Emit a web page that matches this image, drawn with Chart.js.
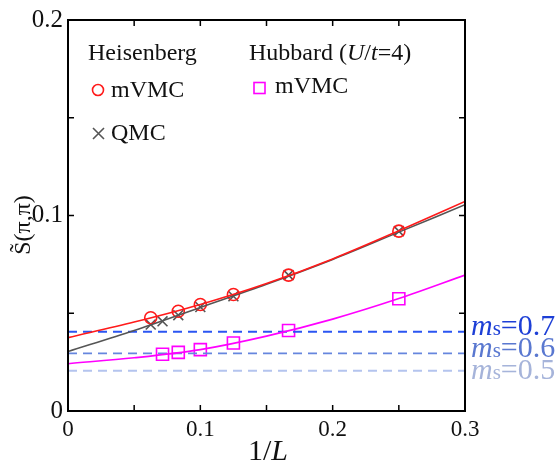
<!DOCTYPE html>
<html>
<head>
<meta charset="utf-8">
<script src="https://cdn.jsdelivr.net/npm/chart.js@4.4.1/dist/chart.umd.min.js"></script>
<style>
  body { margin: 0; background: #fff; }
  #wrap { width: 559px; height: 464px; }
</style>
</head>
<body>
<div id="wrap"><canvas id="chart" width="559" height="464"></canvas></div>
<script>
// 1/L for L = 4, 6, 8, 10, 12, 14, 16
var invL = [1/4, 1/6, 1/8, 1/10, 1/12, 1/14, 1/16];

// Heisenberg
var heisVMC = [0.0920, 0.0695, 0.0596, 0.0545, 0.0510, null, 0.0477];
var heisQMC = [0.0920, 0.0695, 0.0587, 0.0532, 0.0490, 0.0459, 0.0442];
// Hubbard U/t=4
var hubVMC  = [0.0574, 0.0412, 0.0348, 0.0314, 0.0300, 0.0290, null];

// fit curves
var fitX    = [0, 0.05, 0.1, 0.15, 0.2, 0.25, 0.3];
var fitHeisVMC = [0.0375, 0.0455, 0.0545, 0.0652, 0.0778, 0.0922, 0.1072];
var fitHeisQMC = [0.0304, 0.0412, 0.0530, 0.0648, 0.0775, 0.0915, 0.1055];
var fitHub     = [0.0242, 0.0272, 0.0314, 0.0383, 0.0470, 0.0575, 0.0695];

// m_s reference levels
var msLabels = ['0.7', '0.6', '0.5'];
var msLevels = [0.0405, 0.0295, 0.0206];
var msLineColors = ['#2b55f2', '#6686de', '#b4c4ee'];
var msTextColors = ['#1d3fd6', '#5a78d0', '#a6b4da'];

var serif = "'Liberation Serif', 'Times New Roman', serif";

function pts(xs, ys) {
    var out = [];
    xs.forEach(function(x, i) { if (ys[i] != null) out.push({x: x, y: ys[i]}); });
    return out;
}

var datasets = [
    {data: pts(fitX, fitHeisVMC), borderColor: '#ff1a1a', borderWidth: 1.6, pointRadius: 0, showLine: true, cubicInterpolationMode: 'monotone'},
    {data: pts(fitX, fitHeisQMC), borderColor: '#555', borderWidth: 1.6, pointRadius: 0, showLine: true, cubicInterpolationMode: 'monotone'},
    {data: pts(fitX, fitHub), borderColor: '#ff00ff', borderWidth: 1.6, pointRadius: 0, showLine: true, cubicInterpolationMode: 'monotone'}
];
msLevels.forEach(function(v, i) {
    datasets.push({data: [{x: 0, y: v}, {x: 0.3, y: v}], borderColor: msLineColors[i],
        borderWidth: i == 0 ? 2 : 1.8, borderDash: [9, 6], pointRadius: 0, showLine: true});
});
datasets.push(
    {data: pts(invL, heisVMC), pointStyle: 'circle', pointRadius: 6, borderColor: '#ff1a1a', backgroundColor: 'rgba(0,0,0,0)', pointBorderWidth: 1.6, showLine: false},
    {data: pts(invL, heisQMC), pointStyle: 'crossRot', pointRadius: 7, borderColor: '#555', pointBorderWidth: 1.6, showLine: false},
    {data: pts(invL, hubVMC), pointStyle: 'rect', pointRadius: 8.5, borderColor: '#ff00ff', backgroundColor: 'rgba(0,0,0,0)', pointBorderWidth: 1.6, showLine: false}
);

// draw a row of text pieces with different fonts
function runs(ctx, x, y, parts) {
    parts.forEach(function(p) {
        ctx.font = p.f;
        ctx.fillStyle = p.c || '#111';
        ctx.fillText(p.t, x, y + (p.dy || 0));
        x += ctx.measureText(p.t).width;
    });
}

var frame = {
    id: 'frame',
    afterDraw: function(chart) {
        var ctx = chart.ctx, a = chart.chartArea;
        var sx = chart.scales.x, sy = chart.scales.y;
        ctx.save();
        ctx.strokeStyle = '#000';
        ctx.lineWidth = 2;
        ctx.strokeRect(a.left, a.top, a.right - a.left, a.bottom - a.top);
        ctx.lineWidth = 1.5;
        ctx.beginPath();
        var t = 6;
        for (var i = 1; i < 6; i++) {
            var px = sx.getPixelForValue(i * 0.05);
            ctx.moveTo(px, a.bottom); ctx.lineTo(px, a.bottom - t);
            ctx.moveTo(px, a.top); ctx.lineTo(px, a.top + t);
        }
        for (var j = 1; j < 4; j++) {
            var py = sy.getPixelForValue(j * 0.05);
            ctx.moveTo(a.left, py); ctx.lineTo(a.left + t, py);
            ctx.moveTo(a.right, py); ctx.lineTo(a.right - t, py);
        }
        ctx.stroke();

        // legend block
        ctx.textAlign = 'left';
        ctx.textBaseline = 'alphabetic';
        var f24 = '24px ' + serif;
        runs(ctx, 88, 60, [{t: 'Heisenberg', f: f24}]);
        ctx.lineWidth = 1.6;
        ctx.strokeStyle = '#ff1a1a';
        ctx.beginPath(); ctx.arc(98, 90, 5.5, 0, Math.PI * 2); ctx.stroke();
        runs(ctx, 111, 97, [{t: 'mVMC', f: f24}]);
        ctx.strokeStyle = '#555';
        ctx.beginPath();
        ctx.moveTo(93, 128); ctx.lineTo(104, 139);
        ctx.moveTo(104, 128); ctx.lineTo(93, 139);
        ctx.stroke();
        runs(ctx, 111, 140, [{t: 'QMC', f: f24}]);

        runs(ctx, 249, 60, [
            {t: 'Hubbard (', f: f24},
            {t: 'U', f: 'italic ' + f24},
            {t: '/', f: f24},
            {t: 't', f: 'italic ' + f24},
            {t: '=4)', f: f24}
        ]);
        ctx.strokeStyle = '#ff00ff';
        ctx.strokeRect(254, 82.5, 11, 11);
        runs(ctx, 275, 93, [{t: 'mVMC', f: f24}]);

        // m_s labels on the right
        var base = [335, 357, 379];
        msLabels.forEach(function(lab, i) {
            var c = msTextColors[i];
            runs(ctx, 471, base[i], [
                {t: 'm', f: 'italic 30px ' + serif, c: c},
                {t: 's', f: '21px ' + serif, c: c},
                {t: '=' + lab, f: '30px ' + serif, c: c}
            ]);
        });

        // axis titles
        ctx.fillStyle = '#111';
        ctx.font = '30px ' + serif;
        var w1 = ctx.measureText('1/').width;
        ctx.font = 'italic 30px ' + serif;
        var w2 = ctx.measureText('L').width;
        ctx.textAlign = 'left';
        runs(ctx, 268 - (w1 + w2) / 2, 460, [{t: '1/', f: '30px ' + serif}, {t: 'L', f: 'italic 30px ' + serif}]);

        // y title: S with a tilde on top, then (pi,pi)
        ctx.translate(30, 225);
        ctx.rotate(-Math.PI / 2);
        ctx.font = '24px ' + serif;
        var txt = 'S(\u03c0,\u03c0)';
        var tw = ctx.measureText(txt).width;
        var sw = ctx.measureText('S').width;
        var x0 = -tw / 2;
        ctx.fillText(txt, x0, 0);
        ctx.textAlign = 'center';
        ctx.fillText('\u02dc', x0 + sw / 2, -4);
        ctx.restore();
    }
};

function tickLabel(v) {
    var k = Math.round(v * 20);
    if (k % 2 != 0) return '';
    return String(k / 20);
}

new Chart(document.getElementById('chart'), {
    type: 'scatter',
    data: {datasets: datasets},
    options: {
        responsive: false,
        animation: false,
        layout: {padding: {top: 15, right: 94, bottom: 0, left: 0}},
        plugins: {legend: {display: false}, tooltip: {enabled: false}},
        scales: {
            x: {
                type: 'linear', min: 0, max: 0.3,
                grid: {display: false, drawTicks: false},
                border: {display: false},
                ticks: {stepSize: 0.05, autoSkip: false, maxRotation: 0, padding: 5, color: '#111',
                        font: {family: serif, size: 23}, callback: tickLabel},
                afterFit: function(s) { s.height = 53; }
            },
            y: {
                min: 0, max: 0.2,
                grid: {display: false, drawTicks: false},
                border: {display: false},
                ticks: {stepSize: 0.05, autoSkip: false, padding: 5, color: '#111',
                        font: {family: serif, size: 25}, callback: tickLabel},
                afterFit: function(s) { s.width = 68; }
            }
        }
    },
    plugins: [frame]
});
</script>
</body>
</html>
